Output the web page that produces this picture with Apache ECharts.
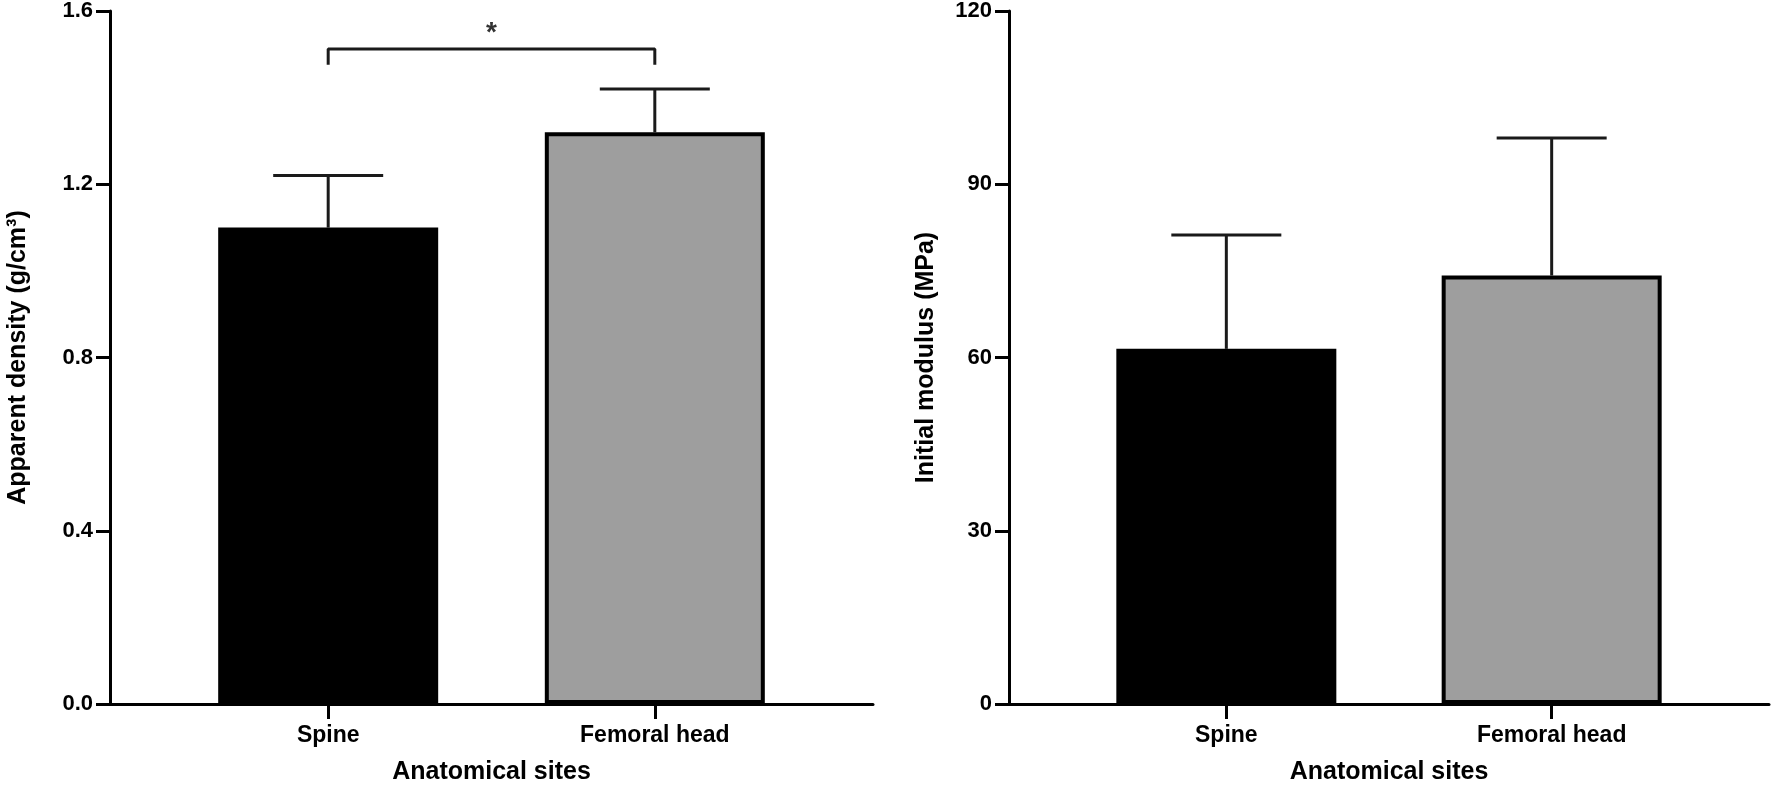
<!DOCTYPE html>
<html>
<head>
<meta charset="utf-8">
<script src="https://cdn.jsdelivr.net/npm/echarts@6/dist/echarts.min.js"></script>
<style>
html,body{margin:0;padding:0;background:#fff;}
#c{width:1771px;height:790px;}
</style>
</head>
<body>
<div id="c"></div>
<script>
// ---- data ----
const categories = ['Spine', 'Femoral head'];
const catPos = [0, 1];
const densityMean = [1.10, 1.32];
const densityUpper = [1.22, 1.42];
const modulusMean = [61.5, 74.2];
const modulusUpper = [81.2, 98.0];
const densityTicks = [0, 0.4, 0.8, 1.2, 1.6];
const modulusTicks = [0, 30, 60, 90, 120];
const bracketX = [0, 0, 1, 1];
const bracketY = [1.476, 1.512, 1.512, 1.476];
const starX = [0.5];
const starY = [1.549];
const barColors = ['#000000', '#9e9e9e'];

const FONT = '"Liberation Sans", Arial, Helvetica, sans-serif';

function xAxisCfg(gi) {
  return {
    type: 'value', gridIndex: gi, min: -0.668, max: 1.668,
    name: 'Anatomical sites', nameLocation: 'middle', nameGap: 56,
    nameTextStyle: {fontFamily: FONT, fontWeight: 'bold', fontSize: 25, color: '#000'},
    axisLine: {show: true, onZero: false, lineStyle: {color: '#000', width: 3}},
    axisTick: {show: true, customValues: catPos, length: 15, lineStyle: {color: '#000', width: 3}},
    axisLabel: {show: true, customValues: catPos, margin: 20, fontFamily: FONT, fontWeight: 'bold', fontSize: 23, color: '#000',
      formatter: v => categories[Math.round(v)] || ''},
    splitLine: {show: false}
  };
}
function yAxisCfg(gi, name, ticks, fmt, gap) {
  return {
    type: 'value', gridIndex: gi, min: ticks[0], max: ticks[ticks.length - 1], interval: ticks[1] - ticks[0],
    name: name, nameLocation: 'middle', nameGap: gap, nameRotate: 90,
    nameTextStyle: {fontFamily: FONT, fontWeight: 'bold', fontSize: 25, color: '#000'},
    axisLine: {show: true, onZero: false, lineStyle: {color: '#000', width: 3}},
    axisTick: {show: true, inside: false, length: 14, lineStyle: {color: '#000', width: 3}},
    axisLabel: {margin: 17, fontFamily: FONT, fontWeight: 'bold', fontSize: 22, color: '#000', formatter: fmt},
    splitLine: {show: false}
  };
}
function barSeries(gi, vals) {
  return {
    type: 'bar', xAxisIndex: gi, yAxisIndex: gi, barWidth: 220, z: 3,
    data: catPos.map((x, i) => ({
      value: [x, vals[i]],
      itemStyle: {color: barColors[i], borderColor: '#000', borderWidth: i === 1 ? 4 : 0}
    }))
  };
}
function errSeries(gi, mean, upper) {
  return {
    type: 'custom', xAxisIndex: gi, yAxisIndex: gi, z: 2,
    data: catPos.map((x, i) => [x, mean[i], upper[i]]),
    renderItem: function (params, api) {
      const b = api.coord([api.value(0), api.value(1)]);
      const t = api.coord([api.value(0), api.value(2)]);
      const st = {stroke: '#1a1a1a', lineWidth: 3};
      return {type: 'group', children: [
        {type: 'line', shape: {x1: b[0], y1: b[1], x2: t[0], y2: t[1]}, style: st},
        {type: 'line', shape: {x1: t[0] - 55, y1: t[1], x2: t[0] + 55, y2: t[1]}, style: st}
      ]};
    }
  };
}

const chart = echarts.init(document.getElementById('c'), null, {renderer: 'canvas'});
chart.setOption({
  backgroundColor: '#fff',
  animation: false,
  grid: [
    {left: 110, right: 898, top: 11, bottom: 85},
    {left: 1009, right: 2, top: 11, bottom: 85}
  ],
  xAxis: [xAxisCfg(0), xAxisCfg(1)],
  yAxis: [
    yAxisCfg(0, 'Apparent density (g/cm³)', densityTicks, v => v.toFixed(1), 79),
    yAxisCfg(1, 'Initial modulus (MPa)', modulusTicks, v => String(v), 70)
  ],
  series: [
    barSeries(0, densityMean),
    errSeries(0, densityMean, densityUpper),
    barSeries(1, modulusMean),
    errSeries(1, modulusMean, modulusUpper),
    {
      type: 'line', xAxisIndex: 0, yAxisIndex: 0, symbol: 'none', z: 4,
      lineStyle: {color: '#1a1a1a', width: 3},
      data: bracketX.map((x, i) => [x, bracketY[i]])
    },
    {
      type: 'scatter', xAxisIndex: 0, yAxisIndex: 0, symbol: 'circle', symbolSize: 2,
      itemStyle: {color: 'rgba(255,255,255,0)'}, z: 5,
      data: starX.map((x, i) => [x, starY[i]]),
      label: {show: true, position: 'inside', formatter: '*', fontFamily: FONT, fontWeight: 'bold', fontSize: 28, color: '#000'}
    }
  ]
});
</script>
</body>
</html>
